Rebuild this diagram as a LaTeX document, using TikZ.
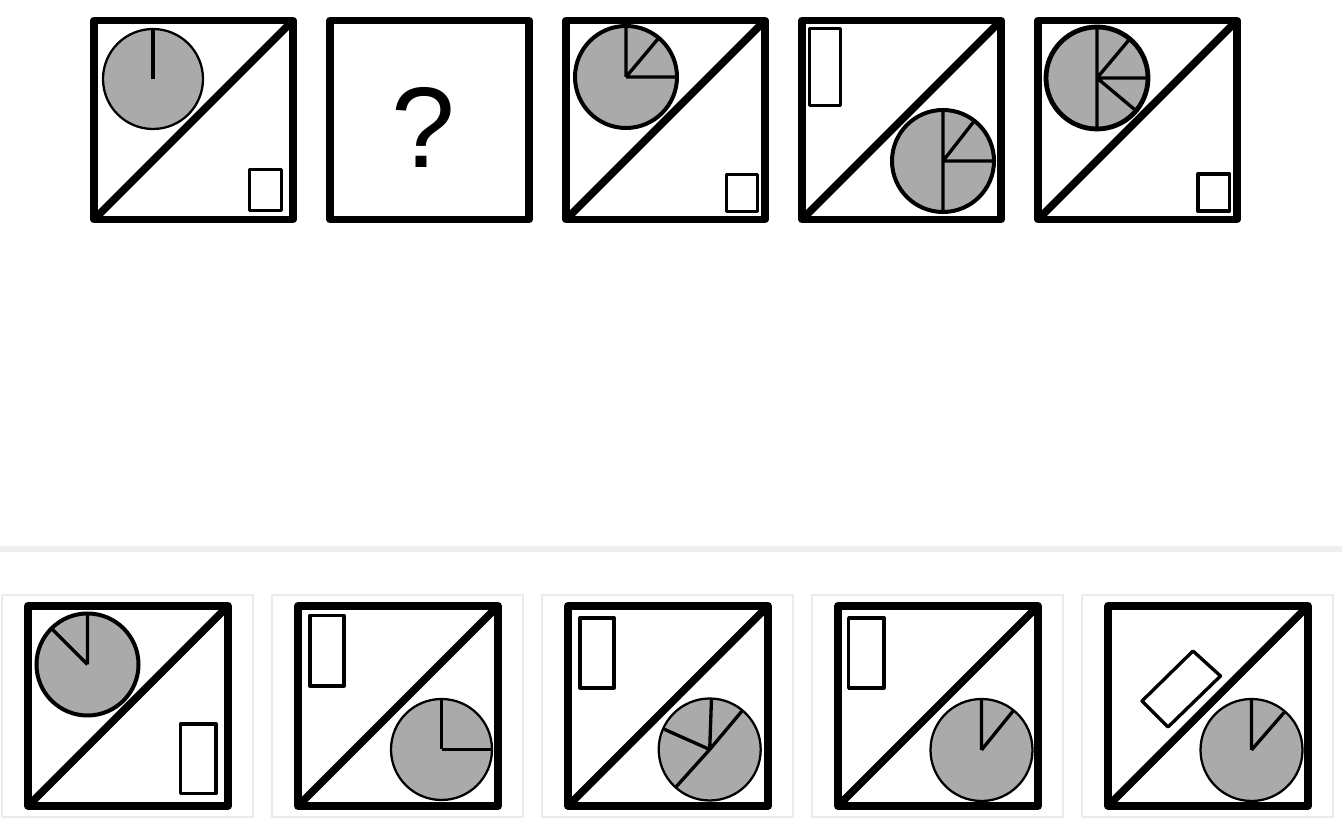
\documentclass[tikz,border=0pt]{standalone}
\usepackage{fontspec}
\setmainfont{Liberation Sans}
\usetikzlibrary{calc}
\definecolor{piegray}{HTML}{AAAAAA}
\definecolor{rulegray}{HTML}{EFEFEF}
\definecolor{cardgray}{HTML}{EBEBEB}

\begin{document}
\begin{tikzpicture}[
      x=0.75pt, y=0.75pt,
      panel/.style={draw=black, line width=5.8pt, line join=round},
      diag/.style={draw=black, line width=5.8pt},
      pie/.style={draw=black, fill=piegray, line width=1.7pt},
      piebold/.style={draw=black, fill=piegray, line width=3pt},
      spoke/.style={draw=black, line width=2.5pt},
      bar/.style={draw=black, line width=2.5pt, line join=round},
      card/.style={draw=cardgray, line width=0.8pt}
    ]
    \useasboundingbox (0,0) rectangle (1342,824);

    \draw[panel] (94,604.5) rectangle (293,803.5);
    \draw[diag] (94,604.5) -- (293,803.5);
    \coordinate (t1) at (153,745);
    \draw[pie] (t1) circle (50);
    \draw[spoke] (t1) -- ++(90:50);
    \draw[bar] (249.5,613.5) rectangle (281.5,654.5);

    \draw[panel] (330,604.5) rectangle (529,803.5);
    \node[font=\fontsize{86}{90}\selectfont, inner sep=0pt] (qmark) at (423,697) {?};

    \draw[panel] (566,604.5) rectangle (765,803.5);
    \draw[diag] (566,604.5) -- (765,803.5);
    \coordinate (t3) at (626,747);
    \draw[piebold] (t3) circle (51);
    \draw[spoke] (t3) -- ++(90:51) (t3) -- ++(50:51) (t3) -- ++(0:51);
    \draw[bar] (726.5,612.5) rectangle (757.5,649.5);

    \draw[panel] (802,604.5) rectangle (1001,803.5);
    \draw[diag] (802,604.5) -- (1001,803.5);
    \draw[bar] (809.5,718.5) rectangle (840.5,795.5);
    \coordinate (t4) at (943,663);
    \draw[piebold] (t4) circle (51);
    \draw[spoke] (t4) -- ++(90:51) (t4) -- ++(52:51) (t4) -- ++(0:51) (t4) -- ++(270:51);

    \draw[panel] (1038,604.5) rectangle (1237,803.5);
    \draw[diag] (1038,604.5) -- (1237,803.5);
    \coordinate (t5) at (1097,746);
    \draw[piebold, line width=3.6pt] (t5) circle (51);
    \draw[spoke] (t5) -- ++(90:51) (t5) -- ++(50:51) (t5) -- ++(0:51)
      (t5) -- ++(-40:51) (t5) -- ++(270:51);
    \draw[bar] (1198,613) rectangle (1229.5,650);

    \fill[rulegray] (0,272) rectangle (1342,278);

    \draw[card] (2,7) rectangle (253,229);
    \draw[card] (272,7) rectangle (523,229);
    \draw[card] (542,7) rectangle (793,229);
    \draw[card] (812,7) rectangle (1063,229);
    \draw[card] (1082,7) rectangle (1333,229);

    \draw[panel] (28,18) rectangle (228,218);
    \draw[diag] (28,18) -- (228,218);
    \coordinate (b1) at (87.5,159.5);
    \draw[piebold] (b1) circle (51);
    \draw[spoke] (b1) -- ++(90:51) (b1) -- ++(135:51);
    \draw[bar] (180.5,30.5) rectangle (216,100);

    \draw[panel] (298,18) rectangle (498,218);
    \draw[diag] (298,18) -- (498,218);
    \draw[bar] (310,138) rectangle (344,208.5);
    \coordinate (b2) at (441.5,74.5);
    \draw[pie] (b2) circle (50.5);
    \draw[spoke] (b2) -- ++(90:50.5) (b2) -- ++(0:50.5);

    \draw[panel] (568,18) rectangle (768,218);
    \draw[diag] (568,18) -- (768,218);
    \draw[bar] (580,136) rectangle (614,206);
    \coordinate (b3) at (709.7,74.5);
    \draw[pie] (b3) circle (51);
    \draw[spoke] (b3) -- ++(88:51) (b3) -- ++(50:51) (b3) -- ++(156:51) (b3) -- ++(228:51);

    \draw[panel] (838,18) rectangle (1038,218);
    \draw[diag] (838,18) -- (1038,218);
    \draw[bar] (848.7,136) rectangle (884,206);
    \coordinate (b4) at (981.5,74);
    \draw[pie] (b4) circle (51);
    \draw[spoke] (b4) -- ++(90:51) (b4) -- ++(51:51);

    \draw[panel] (1108,18) rectangle (1308,218);
    \draw[diag] (1108,18) -- (1308,218);
    \draw[bar] (1193,173) -- (1220.5,148) -- (1168,97) -- (1142,123) -- cycle;
    \coordinate (b5) at (1251.5,74);
    \draw[pie] (b5) circle (51);
    \draw[spoke] (b5) -- ++(90:51) (b5) -- ++(49:51);
  \end{tikzpicture}
\end{document}
